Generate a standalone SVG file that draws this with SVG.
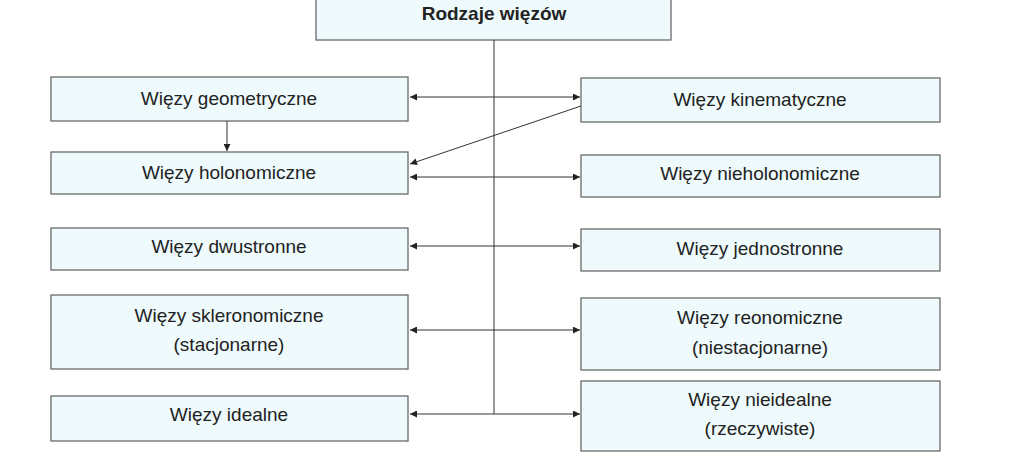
<svg xmlns="http://www.w3.org/2000/svg" width="1023" height="473" viewBox="0 0 1023 473">
<defs>
<style>
.b{fill:#eefafc;stroke:#6a6a6a;stroke-width:1.3}
.t{font-family:"Liberation Sans",Arial,sans-serif;font-size:19px;fill:#222;text-anchor:middle}
.c{stroke:#333;stroke-width:1;fill:none}
</style>
<marker id="a" viewBox="0 0 10 10" refX="10" refY="5" markerWidth="10" markerHeight="7" markerUnits="userSpaceOnUse" orient="auto-start-reverse"><path d="M0,0L10,5L0,10z" fill="#222"/></marker>
</defs>
<rect width="1023" height="473" fill="#fff"/>
<g id="n0"><rect class="b" x="316" y="-2" width="355" height="42"/><text class="t" x="494" y="20" font-weight="bold" font-size="20">Rodzaje więzów</text></g>
<g id="n1"><rect class="b" x="51" y="77" width="357" height="44"/><text class="t" x="229" y="105">Więzy geometryczne</text></g>
<g id="n2"><rect class="b" x="51" y="152" width="357" height="42"/><text class="t" x="229" y="179">Więzy holonomiczne</text></g>
<g id="n3"><rect class="b" x="51" y="228" width="357" height="42"/><text class="t" x="229" y="253">Więzy dwustronne</text></g>
<g id="n4"><rect class="b" x="51" y="295" width="357" height="74"/><text class="t" x="229" y="322">Więzy skleronomiczne</text><text class="t" x="229" y="351">(stacjonarne)</text></g>
<g id="n5"><rect class="b" x="51" y="396" width="357" height="45"/><text class="t" x="229" y="421">Więzy idealne</text></g>
<g id="n6"><rect class="b" x="581" y="78" width="359" height="44"/><text class="t" x="760" y="106">Więzy kinematyczne</text></g>
<g id="n7"><rect class="b" x="581" y="155" width="359" height="42"/><text class="t" x="760" y="180">Więzy nieholonomiczne</text></g>
<g id="n8"><rect class="b" x="581" y="229" width="359" height="42"/><text class="t" x="760" y="255">Więzy jednostronne</text></g>
<g id="n9"><rect class="b" x="581" y="298" width="359" height="72"/><text class="t" x="760" y="324">Więzy reonomiczne</text><text class="t" x="760" y="354">(niestacjonarne)</text></g>
<g id="n10"><rect class="b" x="581" y="381" width="359" height="70"/><text class="t" x="760" y="406">Więzy nieidealne</text><text class="t" x="760" y="435">(rzeczywiste)</text></g>
<g id="connectors">
<path class="c" d="M494,40V414"/>
<path class="c" d="M410,97H580" marker-start="url(#a)" marker-end="url(#a)"/>
<path class="c" d="M581,106L410,164" marker-end="url(#a)"/>
<path class="c" d="M410,177H580" marker-start="url(#a)" marker-end="url(#a)"/>
<path class="c" d="M410,246H580" marker-start="url(#a)" marker-end="url(#a)"/>
<path class="c" d="M410,330H580" marker-start="url(#a)" marker-end="url(#a)"/>
<path class="c" d="M410,414H580" marker-start="url(#a)" marker-end="url(#a)"/>
<path class="c" d="M227,121V151" marker-end="url(#a)"/>
</g>
</svg>
